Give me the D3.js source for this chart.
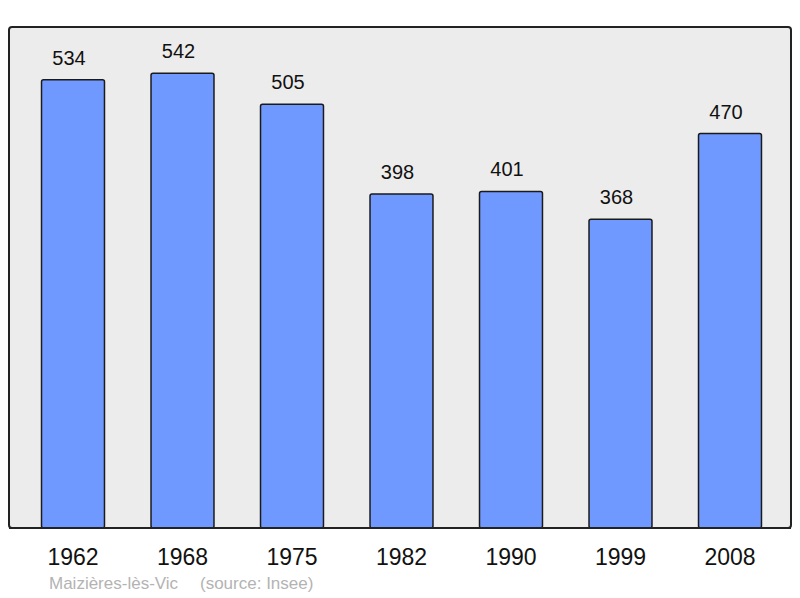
<!DOCTYPE html>
<html>
<head>
<meta charset="utf-8">
<script src="https://cdn.jsdelivr.net/npm/d3@7"></script>
<style>
  body { margin: 0; background: #fff; }
  text { font-family: "Liberation Sans", Arial, sans-serif; }
</style>
</head>
<body>
<svg width="800" height="598"></svg>
<script>
// donnees
const years = ["1962", "1968", "1975", "1982", "1990", "1999", "2008"];
const population = [534, 542, 505, 398, 401, 368, 470];
const commune = "Maizières-lès-Vic";
const source = "(source: Insee)";

const svg = d3.select("svg");

const x = d3.scaleBand()
  .domain(years)
  .range([18.25, 784.75])
  .paddingInner(0.425)
  .paddingOuter(0.2125);

const y = d3.scaleLinear()
  .domain([0, 597])
  .range([528, 27]);

// fond du graphique
svg.append("rect")
  .attr("x", 9)
  .attr("y", 27)
  .attr("width", 782)
  .attr("height", 501)
  .attr("rx", 3)
  .attr("fill", "#ececec")
  .attr("stroke", "#222")
  .attr("stroke-width", 2);

const rows = years.map((yr, i) => ({ year: yr, value: population[i] }));

// barres
svg.selectAll(".bar")
  .data(rows)
  .enter()
  .append("rect")
  .attr("class", "bar")
  .attr("x", (d) => x(d.year))
  .attr("y", (d) => y(d.value))
  .attr("width", x.bandwidth())
  .attr("height", (d) => y(0) - y(d.value))
  .attr("rx", 2)
  .attr("fill", "#7099ff")
  .attr("stroke", "#1a1a1a")
  .attr("stroke-width", 1.5);

// redessiner la ligne du bas par-dessus
svg.append("line")
  .attr("x1", 9).attr("x2", 791)
  .attr("y1", 528).attr("y2", 528)
  .attr("stroke", "#222")
  .attr("stroke-width", 2);

// valeurs
svg.selectAll(".val")
  .data(rows)
  .enter()
  .append("text")
  .attr("class", "val")
  .attr("x", (d) => x(d.year) + x.bandwidth() / 2 - 4)
  .attr("y", (d) => y(d.value) - 15)
  .attr("text-anchor", "middle")
  .attr("font-size", 20)
  .attr("fill", "#111")
  .text((d) => d.value);

// annees
svg.selectAll(".yr")
  .data(rows)
  .enter()
  .append("text")
  .attr("class", "yr")
  .attr("x", (d) => x(d.year) + x.bandwidth() / 2)
  .attr("y", 565)
  .attr("text-anchor", "middle")
  .attr("font-size", 23)
  .attr("fill", "#111")
  .text((d) => d.year);

// pied de page
svg.append("text")
  .attr("x", 49)
  .attr("y", 589)
  .attr("font-size", 17)
  .attr("fill", "#b3b3b3")
  .text(commune);

svg.append("text")
  .attr("x", 200)
  .attr("y", 589)
  .attr("font-size", 17)
  .attr("fill", "#b3b3b3")
  .text(source);
</script>
</body>
</html>
